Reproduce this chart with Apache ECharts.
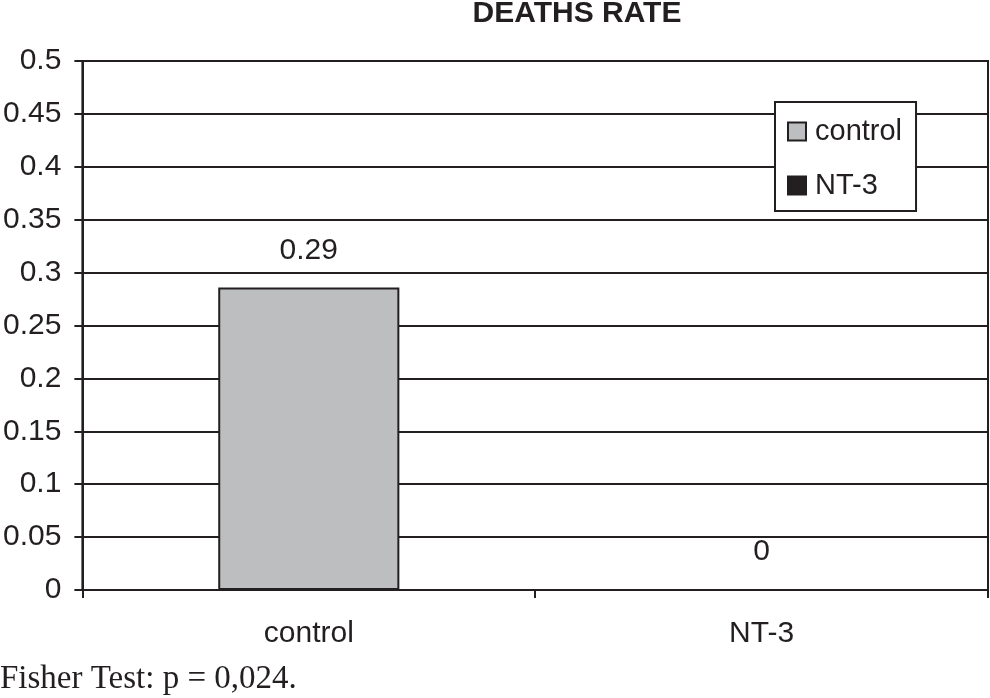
<!DOCTYPE html>
<html><head><meta charset="utf-8">
<script src="https://cdn.jsdelivr.net/npm/echarts@6/dist/echarts.min.js"></script>
<style>html,body{margin:0;padding:0;background:#fff;}#c{width:990px;height:698px;}</style>
</head><body><div id="c"></div>
<script>
const categories = ['control', 'NT-3'];
const seriesNames = ['control', 'NT-3'];
const controlValues = [0.286, null];
const nt3Values = [null, 0];
const labelTexts = ['0.29', '0'];
const yTicks = [0, 0.05, 0.1, 0.15, 0.2, 0.25, 0.3, 0.35, 0.4, 0.45, 0.5];
const titleText = 'DEATHS RATE';
const noteText = 'Fisher Test: p = 0,024.';

const ink = '#231f20';
const sans = 'Liberation Sans, Arial, sans-serif';
const chart = echarts.init(document.getElementById('c'), null, {renderer: 'canvas'});
const labelCfg = (i) => ({
  show: true, position: 'top', distance: 22,
  fontFamily: sans, fontSize: 30, color: ink,
  formatter: () => labelTexts[i]
});
chart.setOption({
  animation: false,
  backgroundColor: '#fff',
  graphic: [
    {type: 'text', x: 577, y: 14, style: {text: titleText, fontFamily: sans, fontWeight: 'bold', fontSize: 30, fill: ink, textAlign: 'center', textVerticalAlign: 'middle'}},
    {type: 'text', x: 0, y: 679, style: {text: noteText, fontFamily: 'Liberation Serif, Times New Roman, serif', fontSize: 33, fill: ink, textVerticalAlign: 'middle'}}
  ],
  grid: {left: 82, right: 2, top: 61, bottom: 108, show: true, borderColor: ink, borderWidth: 2, backgroundColor: 'transparent'},
  legend: {
    orient: 'vertical', left: 775, top: 102,
    data: seriesNames,
    backgroundColor: '#fff', borderColor: ink, borderWidth: 2,
    padding: [15, 14, 11, 12],
    itemWidth: 18, itemHeight: 18, itemGap: 25,
    textStyle: {fontFamily: sans, fontSize: 29, lineHeight: 24, color: ink, padding: [0, 0, 0, 4]},
    icon: 'rect'
  },
  xAxis: {
    type: 'category', data: categories,
    axisLine: {lineStyle: {color: ink, width: 2}},
    axisTick: {show: true, length: 8, lineStyle: {color: ink, width: 2}},
    axisLabel: {margin: 29, fontFamily: sans, fontSize: 30, color: ink}
  },
  yAxis: {
    type: 'value', min: yTicks[0], max: yTicks[yTicks.length - 1], interval: 0.05,
    axisLine: {show: true, lineStyle: {color: ink, width: 2}},
    axisTick: {show: true, length: 8, lineStyle: {color: ink, width: 2}},
    splitLine: {lineStyle: {color: ink, width: 2}},
    axisLabel: {margin: 21, fontFamily: sans, fontSize: 30, color: ink,
      formatter: (v) => String(parseFloat(v.toFixed(2)))}
  },
  series: [
    {name: seriesNames[0], type: 'bar', stack: 's', data: controlValues, barWidth: '40%',
     itemStyle: {color: '#bcbec0', borderColor: ink, borderWidth: 2}, label: labelCfg(0)},
    {name: seriesNames[1], type: 'bar', stack: 's', data: nt3Values, barWidth: '40%',
     itemStyle: {color: ink, borderColor: ink, borderWidth: 2}, label: labelCfg(1)}
  ]
});
</script></body></html>
